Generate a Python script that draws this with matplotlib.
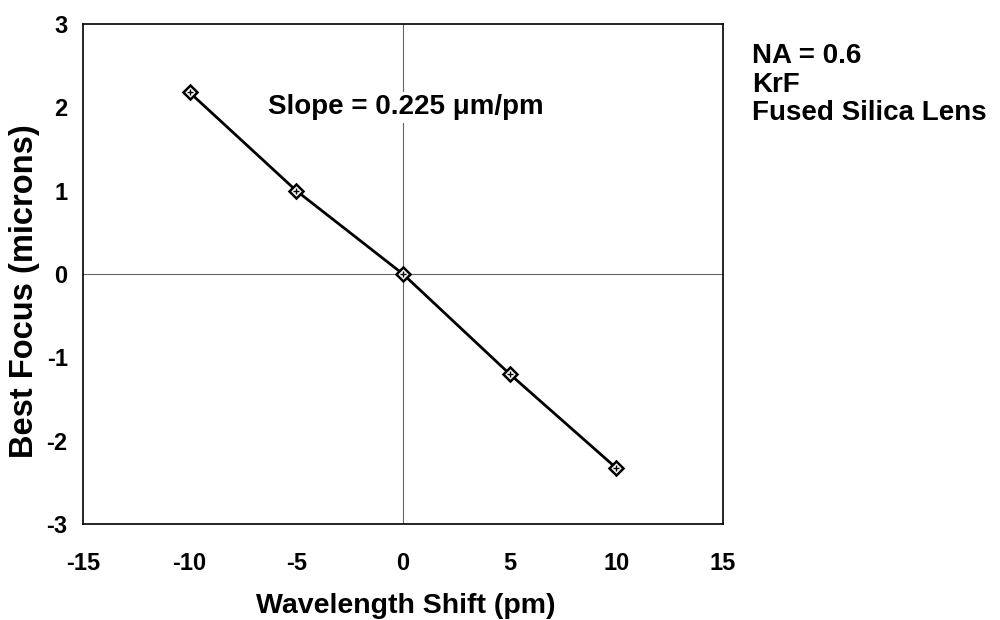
import matplotlib
matplotlib.use("Agg")
import matplotlib.pyplot as plt

wavelength_shift = [-10, -5, 0, 5, 10]
best_focus = [2.18, 1.0, 0.0, -1.2, -2.33]
x_ticks = [-15, -10, -5, 0, 5, 10, 15]
y_ticks = [-3, -2, -1, 0, 1, 2, 3]
info_lines = ['NA = 0.6', 'KrF', 'Fused Silica Lens']

plt.rcParams['font.family'] = ['Liberation Sans', 'DejaVu Sans']
plt.rcParams['font.weight'] = 'bold'
plt.rcParams['axes.unicode_minus'] = False

fig = plt.figure(figsize=(10, 6.2), dpi=100)
ax = fig.add_axes([0.083, 0.155, 0.64, 0.806])

ax.axhline(0, color='#666666', lw=0.8, zorder=1)
ax.axvline(0, color='#666666', lw=0.8, zorder=1)
ax.plot(wavelength_shift, best_focus, color='black', lw=2, marker='D', ms=7.5,
        mfc='white', mec='black', mew=1.8, zorder=3)
ax.plot(wavelength_shift, best_focus, ls='none', marker='+', ms=5, mec='black', mew=1, zorder=4)

ax.set_xlim(-15, 15)
ax.set_ylim(-3, 3)
ax.set_xticks(x_ticks)
ax.set_yticks(y_ticks)
ax.tick_params(length=0, labelsize=17)
ax.tick_params(axis='x', pad=20)
ax.tick_params(axis='y', pad=11)
for lab in ax.get_xticklabels() + ax.get_yticklabels():
    lab.set_fontweight('bold')
for s in ax.spines.values():
    s.set_linewidth(1.2)

ax.set_xlabel('Wavelength Shift (pm)', fontsize=20.5, fontweight='bold')
ax.set_ylabel('Best Focus (microns)', fontsize=23.5, fontweight='bold')
ax.xaxis.set_label_coords(0.505, -0.138)
ax.yaxis.set_label_coords(-0.067, 0.466)

ax.text(-6.35, 2.0, 'Slope = 0.225 \u03bcm/pm', fontsize=20, fontweight='bold', va='center', ha='left',
        bbox=dict(facecolor='white', edgecolor='none', pad=2), zorder=5)
for i, line in enumerate(info_lines):
    fig.text(0.752, 0.898 - i * 0.046, line, fontsize=20, fontweight='bold', va='baseline', ha='left')

fig.savefig('out.png', dpi=100)
